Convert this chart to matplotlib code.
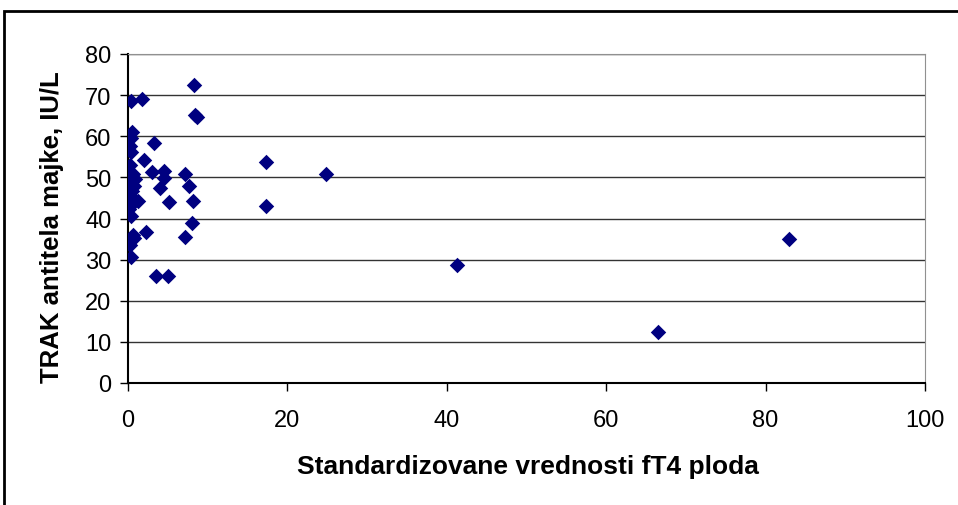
import matplotlib
matplotlib.use("Agg")
import matplotlib.pyplot as plt
from matplotlib.patches import Rectangle

plt.rcParams['font.family'] = ['Liberation Sans', 'DejaVu Sans']

# standardized fT4 values of the fetus vs maternal TRAb (IU/L)
ft4 = [0.4, 1.8, 8.3, 8.4, 8.6,
       0.5, 0.4, 0.3, 0.4, 0.3, 3.3, 2.0,
       3.0, 4.5, 4.5, 7.1, 7.6, 4.0, 5.1, 8.1, 8.0, 7.1, 2.2, 3.5, 5.0,
       0.6, 0.3, 0.9, 0.4, 0.8, 0.5, 0.3, 0.2, 0.7, 1.2, 0.4, 0.1, 0.4,
       0.6, 0.8, 0.2, 0.4,
       17.3, 17.3, 24.8, 41.3, 66.5, 82.9]
trak = [68.6, 69.1, 72.4, 65.2, 64.7,
        61.0, 59.5, 57.7, 56.1, 53.0, 58.4, 54.3,
        51.3, 51.5, 49.8, 50.9, 47.9, 47.5, 44.1, 44.2, 38.9, 35.5, 36.6, 25.9, 25.9,
        50.9, 50.3, 49.6, 48.6, 47.8, 46.6, 45.5, 44.6, 44.8, 44.2, 43.3, 42.3, 40.7,
        36.1, 35.3, 33.5, 30.7,
        53.7, 43.1, 50.9, 28.7, 12.5, 35.0]

xticks = [0, 20, 40, 60, 80, 100]
yticks = [0, 10, 20, 30, 40, 50, 60, 70, 80]
xlab = 'Standardizovane vrednosti fT4 ploda'
ylab = 'TRAK antitela majke, IU/L'

fig = plt.figure(figsize=(9.58, 5.06), dpi=100)
ax = fig.add_axes([128/958, 1 - 384/506, (925 - 128)/958, (384 - 55)/506])

# outer chart frame (runs off the right/bottom edge like the original)
fig.patches.append(Rectangle((4/958, -0.1), 1.2, 1.1 - 12/506, transform=fig.transFigure,
                             fill=False, edgecolor='black', linewidth=2))

ax.scatter(ft4, trak, marker='D', s=62, color='#000080', zorder=3, linewidths=0)

ax.set_xlim(0, 100)
ax.set_ylim(0, 80)
ax.set_xticks(xticks)
ax.set_yticks(yticks)
ax.yaxis.grid(True, color='#333333', linewidth=1)
ax.set_axisbelow(True)

for s in ['top', 'right']:
    ax.spines[s].set_color('#909090')
ax.spines['left'].set_linewidth(1.5)
ax.spines['bottom'].set_linewidth(1.5)
ax.tick_params(direction='out', length=6, width=1, labelsize=17, colors='black')
ax.tick_params(axis='x', pad=13)
ax.tick_params(axis='y', pad=6)

# axis titles placed in figure coords
fig.text(528/958, 1 - 467/506, xlab, fontsize=19, fontweight='bold', ha='center', va='center')
fig.text(52/958, 1 - 227/506, ylab, fontsize=18.5, fontweight='bold', ha='center', va='center',
         rotation=90)

fig.savefig('out.png', dpi=100)
